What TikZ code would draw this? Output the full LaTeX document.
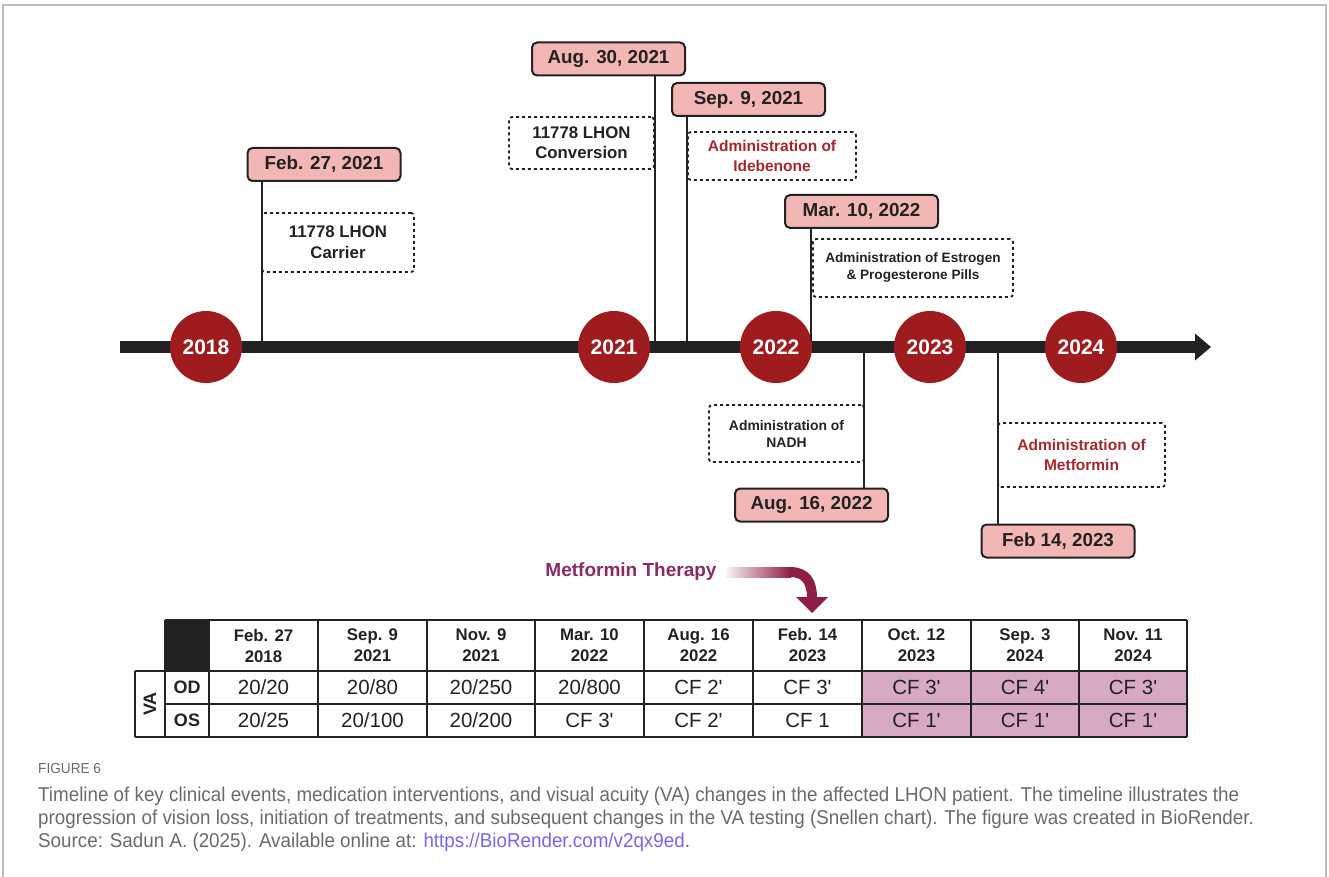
\documentclass[tikz,border=0pt]{standalone}
\usepackage{fontspec}
\setmainfont{Liberation Sans}
\newfontfamily\capfont[FakeStretch=0.94]{Liberation Sans}
\usetikzlibrary{arrows.meta,calc}
\definecolor{datepink}{HTML}{F2B7B4}
\definecolor{yearred}{HTML}{9E1C1E}
\definecolor{notered}{HTML}{A2282B}
\definecolor{mtpurple}{HTML}{8A2A66}
\definecolor{arrowred}{HTML}{8E1E42}
\definecolor{cellpink}{HTML}{D8A9C7}
\definecolor{capgray}{HTML}{6A6A6A}
\definecolor{linkblue}{HTML}{7468E8}
\definecolor{framegray}{HTML}{BDBDBD}
\definecolor{ink}{HTML}{222222}
\newcommand\pr{\textquotesingle}
\newcommand\tcol[6]{%
  \node[thead] (h#1) at ({(#2+#3)/2},645.5) {#4};
  \node[tval] (od#1) at ({(#2+#3)/2},687.5) {#5};
  \node[tval] (os#1) at ({(#2+#3)/2},720.5) {#6};
  \draw[tline] (#3,620) -- (#3,737);
}
\begin{document}
\begin{tikzpicture}[x=1pt,y=-1pt,
  yearc/.style={circle,fill=yearred,minimum size=72pt,inner sep=0pt,text=white,font=\fontsize{21}{24}\selectfont\bfseries},
  datebox/.style={draw=ink,line width=2pt,rounded corners=5pt,fill=datepink,minimum width=153pt,minimum height=33pt,inner sep=0pt,text=ink,font=\fontsize{18.8}{22}\selectfont\bfseries},
  notebox/.style={draw=ink,line width=1.8pt,dash pattern=on 3pt off 3pt,rounded corners=3pt,align=center,inner sep=0pt,text=ink},
  conn/.style={draw=ink,line width=1.8pt},
  tline/.style={draw=ink,line width=2pt},
  thead/.style={align=center,text=ink,font=\fontsize{16.8}{21}\selectfont\bfseries},
  tval/.style={text=ink,font=\fontsize{20.5}{22}\selectfont},
]
\useasboundingbox (0,0) rectangle (1329,877);
% frame
\draw[framegray,line width=2pt] (3,877) -- (3,5) -- (1326,5) -- (1326,877);

% timeline bar
\coordinate (barL) at (120,347);
\coordinate (barR) at (1211,347);
\draw[ink,line width=12pt,-{Triangle[length=16pt,width=26pt]}] (barL) -- (barR);

% year circles
\node[yearc] (y2018) at (206,347) {2018};
\node[yearc] (y2021) at (614,347) {2021};
\node[yearc] (y2022) at (776,347) {2022};
\node[yearc] (y2023) at (930,347) {2023};
\node[yearc] (y2024) at (1081,347) {2024};

% anchor points on the bar
\coordinate (t1) at (262,341);
\coordinate (t2) at (655,341);
\coordinate (t3) at (687,341);
\coordinate (t4) at (811,341);
\coordinate (t5) at (864,353);
\coordinate (t6) at (998,353);

% notes
\node[notebox,minimum width=152pt,minimum height=59pt,font=\fontsize{16.8}{21}\selectfont\bfseries] (n1) at (338,242.5) {11778 LHON\\Carrier};
\node[notebox,minimum width=145pt,minimum height=52pt,font=\fontsize{16.8}{20}\selectfont\bfseries] (n2) at (581.5,143) {11778 LHON\\Conversion};
\node[notebox,minimum width=168pt,minimum height=48pt,text=notered,font=\fontsize{15.5}{20}\selectfont\bfseries] (n3) at (772,156) {Administration of\\Idebenone};
\node[notebox,minimum width=200pt,minimum height=58pt,font=\fontsize{13.6}{17}\selectfont\bfseries] (n4) at (913,268) {Administration of Estrogen\\\& Progesterone Pills};
\node[notebox,minimum width=155pt,minimum height=57pt,font=\fontsize{13.9}{17}\selectfont\bfseries] (n5) at (786.5,433.5) {Administration of\\NADH};
\node[notebox,minimum width=167pt,minimum height=64pt,text=notered,font=\fontsize{15.5}{20}\selectfont\bfseries] (n6) at (1081.5,455) {Administration of\\Metformin};

% date boxes
\node[datebox] (d1) at (324,164.5) {Feb. 27, 2021};
\node[datebox] (d2) at (608.5,59) {Aug. 30, 2021};
\node[datebox] (d3) at (748.5,99.5) {Sep. 9, 2021};
\node[datebox] (d4) at (861.5,211.5) {Mar. 10, 2022};
\node[datebox] (d5) at (811.5,505) {Aug. 16, 2022};
\node[datebox] (d6) at (1058,541) {Feb 14, 2023};

% connectors
\draw[conn] (d1.south -| t1) -- (t1);
\draw[conn] (d2.south -| t2) -- (t2);
\draw[conn] (d3.south -| t3) -- (t3);
\draw[conn] (d4.south -| t4) -- (t4);
\draw[conn] (t5) -- (d5.north -| t5);
\draw[conn] (t6) -- (d6.north -| t6);

% metformin therapy arrow
\node[text=mtpurple,font=\fontsize{19}{22}\selectfont\bfseries,inner sep=0pt] (mt) at (631,572) {Metformin Therapy};
\coordinate (a0) at (726,572);
\coordinate (a1) at (790,572);
\coordinate (a2) at (812,598);
\coordinate (atip) at (812,613);
\shade[left color=arrowred!5,right color=arrowred] (726,567) rectangle (791,577);
\draw[arrowred,line width=10pt] (a1) .. controls (806,572) and (812,582) .. (a2);
\fill[arrowred] (796,597) -- (828,597) -- (atip) -- cycle;

% table
\fill[cellpink] (862,671) rectangle (1187,737);
\fill[ink] (165,620) rectangle (209,671);
\draw[tline] (165,620) -- (1187,620);
\draw[tline] (135,671) -- (1187,671);
\draw[tline] (165,704) -- (1187,704);
\draw[tline] (135,737) -- (1187,737);
\draw[tline] (135,671) -- (135,737);
\draw[tline] (165,620) -- (165,737);
\draw[tline] (209,620) -- (209,737);
\node[rotate=90,text=ink,font=\fontsize{18}{20}\selectfont\bfseries] (va) at (150,704) {VA};
\node[text=ink,font=\fontsize{18}{20}\selectfont\bfseries] (od) at (187,687.5) {OD};
\node[text=ink,font=\fontsize{18}{20}\selectfont\bfseries] (os) at (187,720.5) {OS};
\tcol{1}{209}{318}{Feb. 27\\2018}{20/20}{20/25}
\tcol{2}{318}{427}{Sep. 9\\2021}{20/80}{20/100}
\tcol{3}{427}{535}{Nov. 9\\2021}{20/250}{20/200}
\tcol{4}{535}{644}{Mar. 10\\2022}{20/800}{CF 3\pr}
\tcol{5}{644}{753}{Aug. 16\\2022}{CF 2\pr}{CF 2\pr}
\tcol{6}{753}{862}{Feb. 14\\2023}{CF 3\pr}{CF 1}
\tcol{7}{862}{971}{Oct. 12\\2023}{CF 3\pr}{CF 1\pr}
\tcol{8}{971}{1079}{Sep. 3\\2024}{CF 4\pr}{CF 1\pr}
\tcol{9}{1079}{1187}{Nov. 11\\2024}{CF 3\pr}{CF 1\pr}

% caption
\node[anchor=base west,inner sep=0pt,text=capgray,font=\capfont\fontsize{14.5}{16}\selectfont] (fig) at (38,773) {FIGURE 6};
\node[anchor=base west,inner sep=0pt,text=capgray,font=\capfont\fontsize{20}{23}\selectfont] (c1) at (38,801) {Timeline of key clinical events, medication interventions, and visual acuity (VA) changes in the affected LHON patient. The timeline illustrates the};
\node[anchor=base west,inner sep=0pt,text=capgray,font=\capfont\fontsize{20}{23}\selectfont] (c2) at (38,824) {progression of vision loss, initiation of treatments, and subsequent changes in the VA testing (Snellen chart). The figure was created in BioRender.};
\node[anchor=base west,inner sep=0pt,text=capgray,font=\capfont\fontsize{20}{23}\selectfont] (c3) at (38,847) {Source: Sadun A. (2025). Available online at: \textcolor{linkblue}{https://BioRender.com/v2qx9ed}.};
\end{tikzpicture}
\end{document}
